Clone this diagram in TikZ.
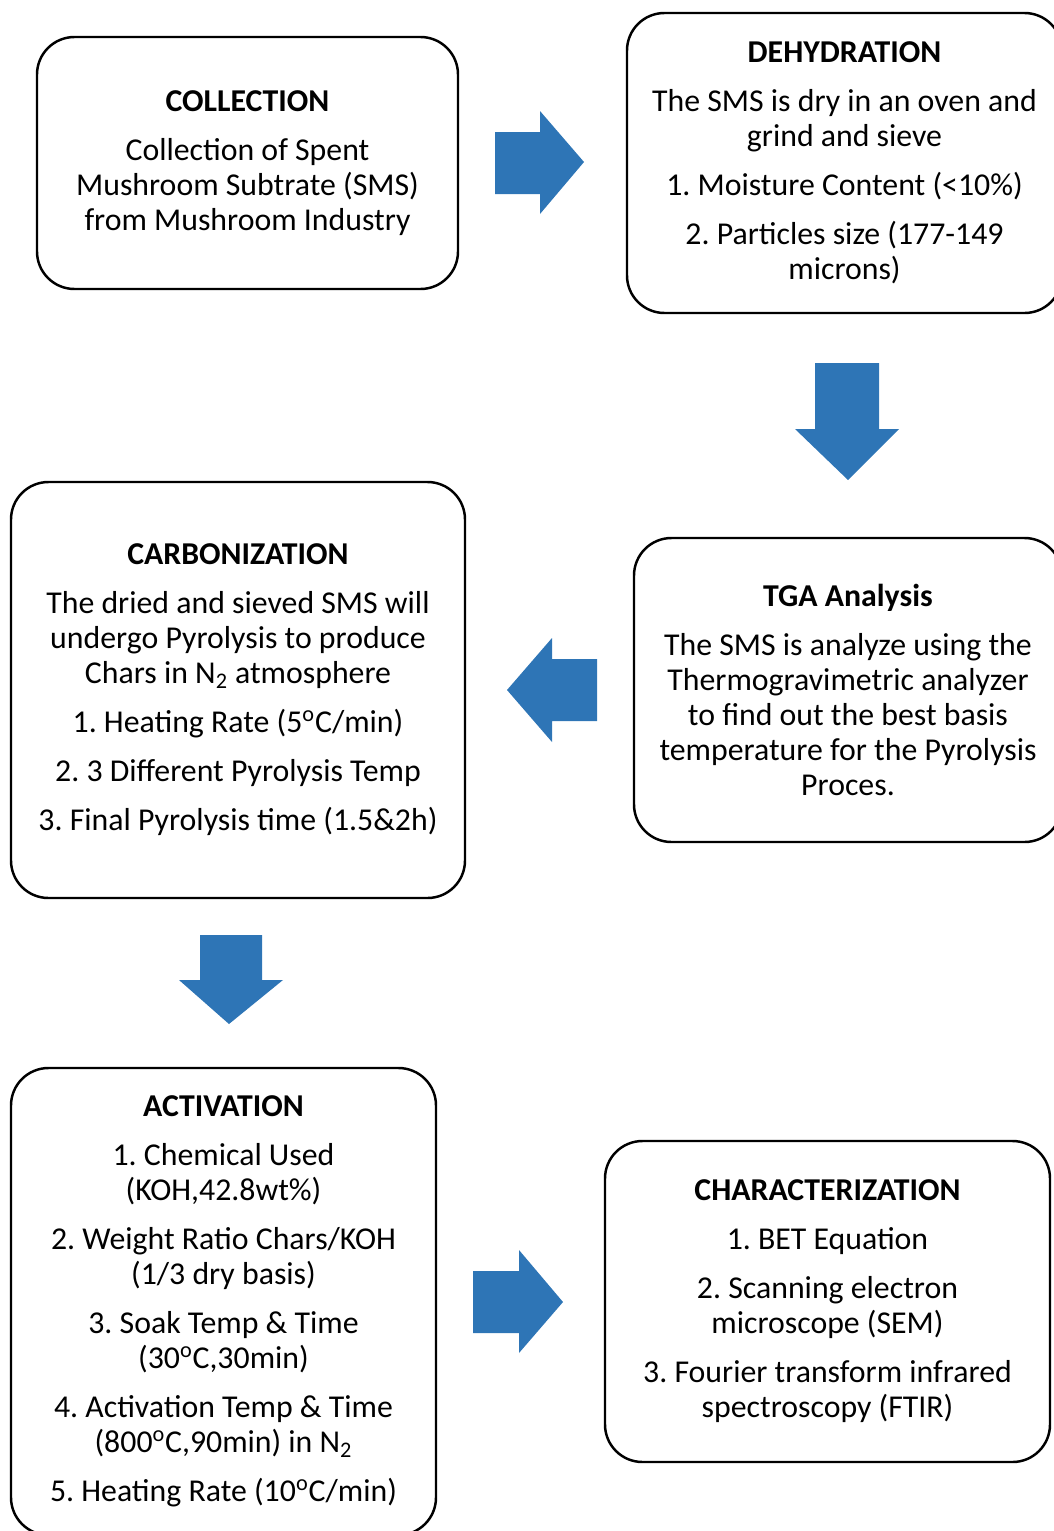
\documentclass[tikz,border=0pt]{standalone}
\usepackage{fontspec}
\setmainfont{Carlito}
\frenchspacing
\definecolor{arrowblue}{RGB}{46,117,182}
\tikzset{
	stagebox/.style={draw, line width=1.4pt, rounded corners=0.75cm, align=center, inner sep=0pt},
	blockarrow/.style={fill=arrowblue}
}
\begin{document}
\begin{tikzpicture}[font=\fontsize{18.1pt}{19.9pt}\selectfont]
	\useasboundingbox (0,0) rectangle (21.08,-30.62);
	% stages
	\node[stagebox, minimum width=8.42cm, minimum height=5.04cm] (collection) at (4.95,-3.26)
		{\textbf{COLLECTION}\\[0.28cm] Collection of Spent\\ Mushroom Subtrate (SMS)\\ from Mushroom Industry};
	\node[stagebox, minimum width=8.70cm, minimum height=6.0cm] (dehydration) at (16.89,-3.26)
		{\textbf{DEHYDRATION}\\[0.28cm] The SMS is dry in an oven and\\ grind and sieve\\[0.28cm] 1. Moisture Content (<10\%)\\[0.28cm] 2. Particles size (177-149\\ microns)};
	\node[stagebox, minimum width=8.56cm, minimum height=6.08cm] (tga) at (16.96,-13.8)
		{\textbf{TGA Analysis}\\[0.28cm] The SMS is analyze using the\\ Thermogravimetric analyzer\\ to find out the best basis\\ temperature for the Pyrolysis\\ Proces.};
	\node[stagebox, minimum width=9.08cm, minimum height=8.32cm] (carbonization) at (4.76,-13.8)
		{\textbf{CARBONIZATION}\\[0.28cm] The dried and sieved SMS will\\ undergo Pyrolysis to produce\\ Chars in N\textsubscript{2} atmosphere\\[0.28cm] 1. Heating Rate (5\textsuperscript{o}C/min)\\[0.28cm] 2. 3 Different Pyrolysis Temp\\[0.28cm] 3. Final Pyrolysis time (1.5\&2h)};
	\node[stagebox, minimum width=8.5cm, minimum height=9.34cm] (activation) at (4.47,-26.03)
		{\textbf{ACTIVATION}\\[0.28cm] 1. Chemical Used\\ (KOH,42.8wt\%)\\[0.28cm] 2. Weight Ratio Chars/KOH\\ (1/3 dry basis)\\[0.28cm] 3. Soak Temp \& Time\\ (30\textsuperscript{o}C,30min)\\[0.28cm] 4. Activation Temp \& Time\\ (800\textsuperscript{o}C,90min) in N\textsubscript{2}\\[0.28cm] 5. Heating Rate (10\textsuperscript{o}C/min)};
	\node[stagebox, minimum width=8.9cm, minimum height=6.42cm] (characterization) at (16.55,-26.03)
		{\textbf{CHARACTERIZATION}\\[0.28cm] 1. BET Equation\\[0.28cm] 2. Scanning electron\\ microscope (SEM)\\[0.28cm] 3. Fourier transform infrared\\ spectroscopy (FTIR)};
	% block arrows
	\fill[blockarrow] (9.9,-2.64) -- (10.8,-2.64) -- (10.8,-2.22) -- (11.68,-3.24) -- (10.8,-4.28) -- (10.8,-3.88) -- (9.9,-3.88) -- cycle;
	\fill[blockarrow] (16.3,-7.26) -- (17.58,-7.26) -- (17.58,-8.58) -- (17.98,-8.58) -- (16.96,-9.6) -- (15.9,-8.58) -- (16.3,-8.58) -- cycle;
	\fill[blockarrow] (11.94,-13.18) -- (11.04,-13.18) -- (11.04,-12.76) -- (10.14,-13.8) -- (11.04,-14.84) -- (11.04,-14.42) -- (11.94,-14.42) -- cycle;
	\fill[blockarrow] (4.0,-18.7) -- (5.24,-18.7) -- (5.24,-19.6) -- (5.66,-19.6) -- (4.58,-20.48) -- (3.58,-19.6) -- (4.0,-19.6) -- cycle;
	\fill[blockarrow] (9.46,-25.42) -- (10.38,-25.42) -- (10.38,-25.0) -- (11.26,-26.04) -- (10.38,-27.06) -- (10.38,-26.66) -- (9.46,-26.66) -- cycle;
\end{tikzpicture}
\end{document}
